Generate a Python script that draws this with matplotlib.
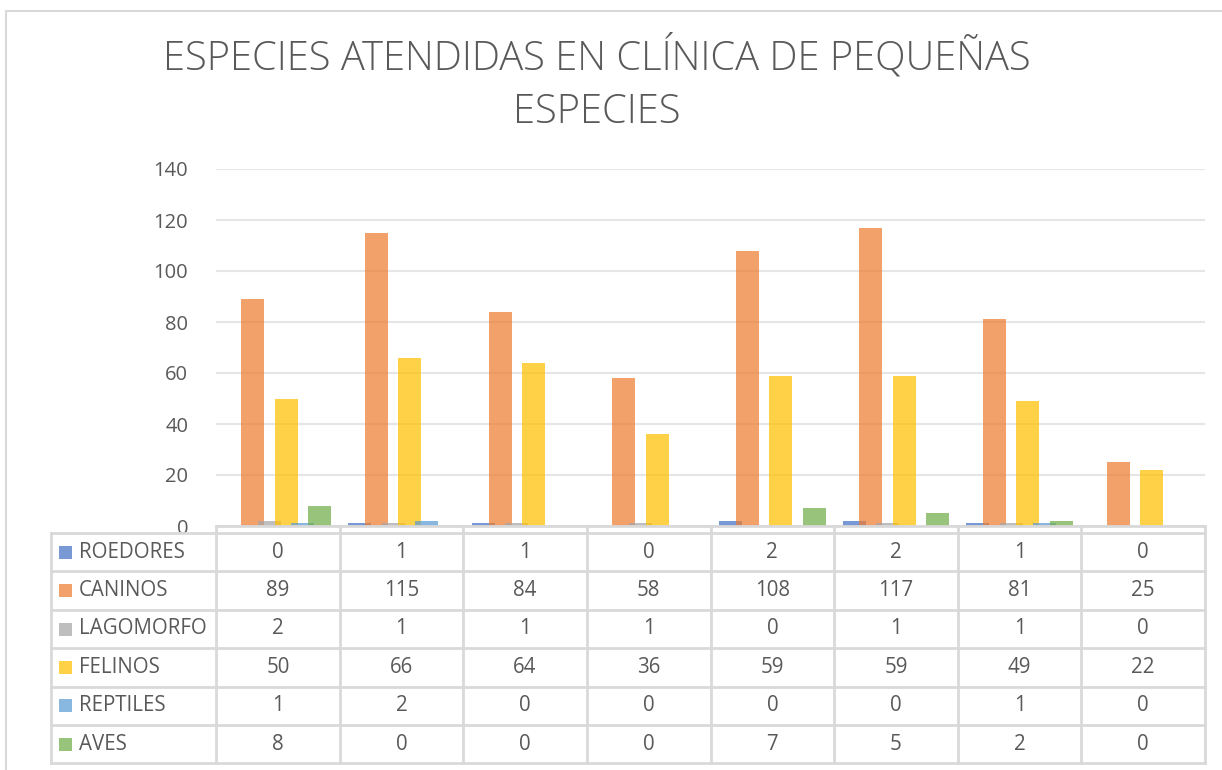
import matplotlib
matplotlib.use("Agg")
import matplotlib.pyplot as plt
import numpy as np

W, H = 1222, 770

TITLE = "ESPECIES ATENDIDAS EN CLÍNICA DE PEQUEÑAS\nESPECIES"
SERIES = ["ROEDORES", "CANINOS", "LAGOMORFO", "FELINOS", "REPTILES", "AVES"]
COLORS = ["#4472C4", "#ED7D31", "#A5A5A5", "#FFC000", "#5B9BD5", "#70AD47"]
ROEDORES = [0, 1, 1, 0, 2, 2, 1, 0]
CANINOS = [89, 115, 84, 58, 108, 117, 81, 25]
LAGOMORFO = [2, 1, 1, 1, 0, 1, 1, 0]
FELINOS = [50, 66, 64, 36, 59, 59, 49, 22]
REPTILES = [1, 2, 0, 0, 0, 0, 1, 0]
AVES = [8, 0, 0, 0, 7, 5, 2, 0]
VALUES = [ROEDORES, CANINOS, LAGOMORFO, FELINOS, REPTILES, AVES]
Y_TICKS = [0, 20, 40, 60, 80, 100, 120, 140]

TEXT = "#595959"
GRID = "#E6E6E6"
LINE = "#D9D9D9"
FONT = "Open Sans"
ALPHA = 0.72

# plot area in pixels
PX_L, PX_R, PX_T, PX_B = 216, 1205, 169, 526
LABEL_L = 51
ROW_TOP = 533
ROW_H = 38.4


def fx(px):
    return px / W


def fy(py):
    return 1 - py / H


fig = plt.figure(figsize=(W / 100, H / 100), dpi=100)
fig.patch.set_facecolor("white")

ax = fig.add_axes([fx(PX_L), fy(PX_B), fx(PX_R) - fx(PX_L), fy(PX_T) - fy(PX_B)])
n_cat = len(ROEDORES)
x = np.arange(n_cat)
step = 0.135
width = 0.186
for i, (vals, color) in enumerate(zip(VALUES, COLORS)):
    ax.bar(x + (i - 2.5) * step, vals, width=width, color=color, alpha=ALPHA,
           linewidth=0, zorder=2 + i)

ax.set_xlim(-0.5, n_cat - 0.5)
ax.set_ylim(0, 140)
ax.set_yticks(Y_TICKS)
ax.set_yticklabels([str(t) for t in Y_TICKS], fontsize=14.5, color=TEXT, family=FONT)
ax.tick_params(axis="y", length=0, pad=20)
ax.set_xticks([])
for side in ["top", "right", "left", "bottom"]:
    ax.spines[side].set_visible(False)
ax.grid(axis="y", color=GRID, linewidth=1.5, zorder=0)
ax.set_axisbelow(True)
ax.patch.set_alpha(0)

# overlay in pixel coordinates for border, title and data table
ov = fig.add_axes([0, 0, 1, 1], zorder=5)
ov.set_xlim(0, W)
ov.set_ylim(H, 0)
ov.axis("off")
ov.patch.set_alpha(0)

# outer chart border
ov.plot([6, 6, W + 5], [H + 5, 11, 11], color=LINE, linewidth=1.5)

fig.text(fx(597), fy(84), TITLE, ha="center", va="center", fontsize=28.7,
         color=TEXT, family=FONT, fontweight="light", linespacing=1.38)

# table
col_w = (PX_R - PX_L) / n_cat
row_ys = [ROW_TOP + k * ROW_H for k in range(len(SERIES) + 1)]
bottom = row_ys[-1]
ov.plot([PX_L, PX_R], [PX_B, PX_B], color=LINE, linewidth=2)
for yy in row_ys:
    ov.plot([LABEL_L, PX_R], [yy, yy], color=LINE, linewidth=2)
ov.plot([LABEL_L, LABEL_L], [ROW_TOP, bottom], color=LINE, linewidth=2)
for c in range(n_cat + 1):
    xx = PX_L + c * col_w
    ov.plot([xx, xx], [PX_B, bottom], color=LINE, linewidth=2)

for r, (name, vals, color) in enumerate(zip(SERIES, VALUES, COLORS)):
    yc = ROW_TOP + (r + 0.5) * ROW_H
    ov.add_patch(plt.Rectangle((59, yc - 6.5), 13, 13, color=color, alpha=ALPHA, lw=0))
    ov.text(79, yc, name, ha="left", va="center", fontsize=14.8, color=TEXT, family=FONT)
    for c, v in enumerate(vals):
        ov.text(PX_L + (c + 0.5) * col_w, yc, str(v), ha="center", va="center",
                fontsize=14.8, color=TEXT, family=FONT)

fig.savefig("out.png", dpi=100, facecolor="white")
